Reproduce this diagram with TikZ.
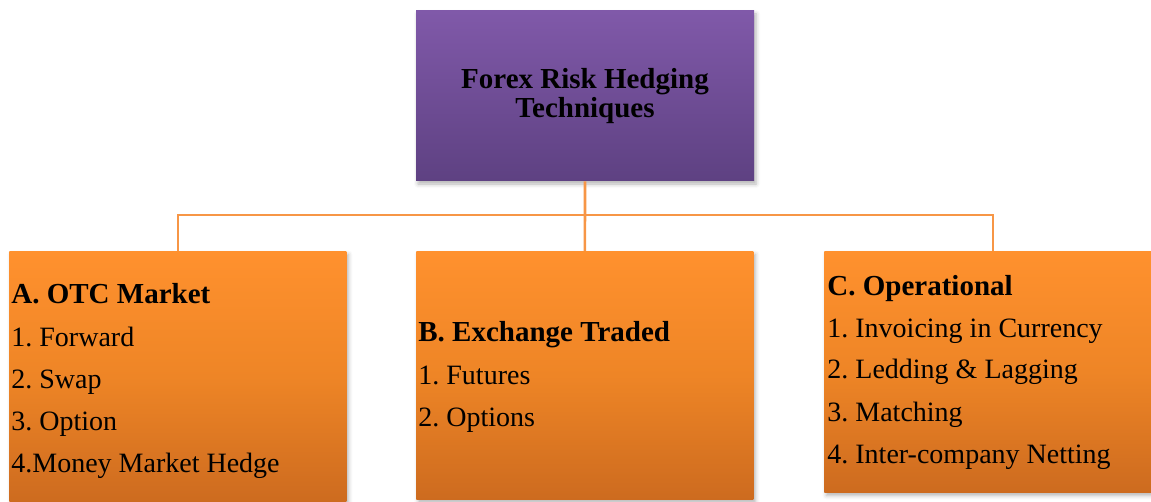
\documentclass[tikz,border=0pt]{standalone}
\usepackage{fontspec}
\setmainfont{Liberation Serif}
\usetikzlibrary{positioning, shadows.blur}

\definecolor{purpletop}{RGB}{128,89,169}
\definecolor{purplebot}{RGB}{94,65,130}
\definecolor{orangetop}{RGB}{255,145,46}
\definecolor{orangemid}{RGB}{238,133,38}
\definecolor{orangebot}{RGB}{205,107,31}
\definecolor{linkorange}{RGB}{247,150,70}
\frenchspacing

\begin{document}
\begin{tikzpicture}[x=0.5pt, y=-0.5pt,
  box/.style={rectangle, inner sep=0pt, minimum width=168.5pt,
    top color=orangetop, bottom color=orangebot, middle color=orangemid,
    blur shadow={shadow xshift=1pt, shadow yshift=-1.5pt, shadow blur radius=2pt, shadow opacity=30}},
  rootbox/.style={box, minimum width=169pt, minimum height=85pt,
    top color=purpletop, bottom color=purplebot, middle color=purpletop!50!purplebot,
    align=center, font=\fontsize{14.5}{14.5}\selectfont\bfseries},
  head/.style={anchor=base west, inner sep=0pt, font=\fontsize{14.5}{17}\selectfont\bfseries},
  item/.style={anchor=base west, inner sep=0pt, font=\fontsize{14}{17}\selectfont},
  link/.style={draw=linkorange, line width=1.3pt}
]
\clip (0,0) rectangle (1151,502);

% boxes
\node[rootbox] (root) at (585,96) {Forex Risk Hedging\\Techniques};
\node[box, minimum height=125.5pt, anchor=north west] (otc) at (9,251) {};
\node[box, minimum height=124pt, anchor=north west] (exch) at (416,251) {};
\node[box, minimum height=120.5pt, anchor=north west] (oper) at (824,251) {};

% connectors
\coordinate (bus) at (585,215);
\draw[link] (root.south) -- (exch.north);
\draw[link] (otc.north) |- (bus) -| (oper.north);

% A. OTC Market
\node[head] (otc-h) at (11,304) {A. OTC Market};
\foreach \t [count=\i] in {1. Forward, 2. Swap, 3. Option, 4.Money Market Hedge}
  \node[item] (otc-\i) at (11,304+42*\i) {\t};

% B. Exchange Traded
\node[head] (exch-h) at (418,342) {B. Exchange Traded};
\foreach \t [count=\i] in {1. Futures, 2. Options}
  \node[item] (exch-\i) at (418,342+42*\i) {\t};

% C. Operational
\node[head] (oper-h) at (827,295) {C. Operational};
\foreach \t [count=\i] in {1. Invoicing in Currency, 2. Ledding \& Lagging, 3. Matching, 4. Inter-company Netting}
  \node[item] (oper-\i) at (827,295+42*\i) {\t};
\end{tikzpicture}
\end{document}
